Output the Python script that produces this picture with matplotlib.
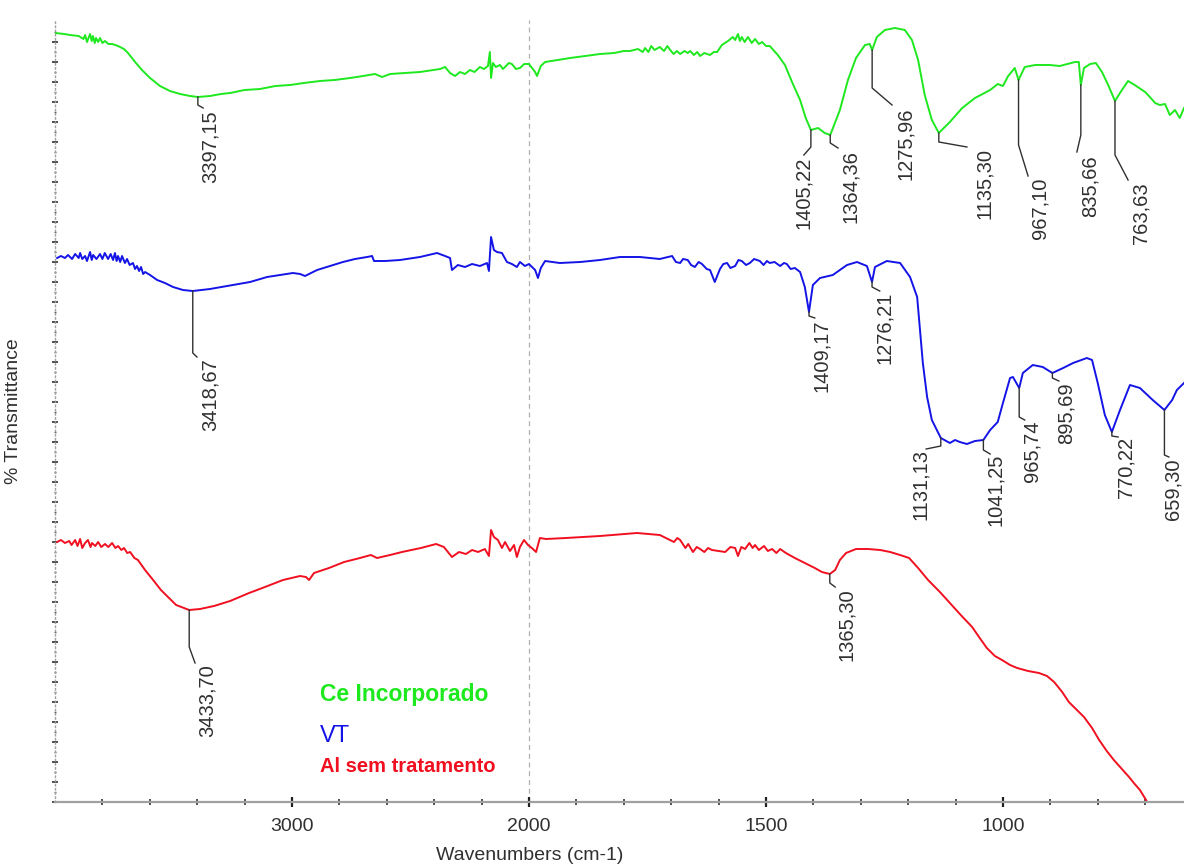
import matplotlib
matplotlib.use('Agg')
import matplotlib.pyplot as plt
from matplotlib.ticker import FixedLocator, NullFormatter
import numpy as np

plt.rcParams['font.family'] = 'Liberation Sans'

# ---- spectra as (wavenumber cm-1, %T) ----
green = [(4000, 76.9), (3960, 76.8), (3937, 76.7), (3900, 76.6), (3880, 76.3), (3873, 76.7),
         (3865, 76.0), (3852, 76.8), (3845, 76.1), (3840, 76.6), (3832, 75.9), (3827, 76.4),
         (3818, 76.0), (3810, 76.4), (3800, 75.9), (3789, 76.1), (3775, 75.8), (3759, 75.8),
         (3734, 75.6), (3709, 75.3), (3692, 74.9), (3662, 74.0), (3633, 73.2), (3599, 72.4),
         (3557, 71.6), (3515, 71.1), (3472, 70.8), (3430, 70.6), (3397, 70.5), (3346, 70.6),
         (3300, 70.8), (3261, 70.9), (3200, 71.2), (3135, 71.3), (3070, 71.6), (3008, 71.7),
         (2950, 71.9), (2882, 72.1), (2820, 72.2), (2755, 72.4), (2700, 72.6), (2650, 72.8),
         (2620, 72.5), (2586, 72.8), (2520, 72.9), (2460, 73.0), (2375, 73.3), (2354, 73.5),
         (2333, 72.9), (2312, 72.6), (2291, 73.0), (2270, 72.8), (2249, 73.2), (2230, 73.0),
         (2207, 73.5), (2190, 73.3), (2173, 73.6), (2165, 75.0), (2160, 72.4), (2152, 73.9),
         (2140, 73.5), (2122, 73.7), (2110, 73.3), (2101, 73.5), (2085, 73.9), (2072, 73.8),
         (2055, 73.3), (2038, 73.4), (2020, 73.8), (2000, 73.8), (1987, 73.0), (1983, 72.6),
         (1975, 73.6), (1966, 74.0), (1913, 74.4), (1850, 74.8), (1820, 74.9), (1800, 75.1),
         (1787, 75.1), (1770, 75.3), (1760, 75.0), (1755, 75.4), (1748, 75.0), (1742, 75.6),
         (1735, 75.2), (1724, 75.5), (1715, 75.1), (1708, 75.6), (1702, 75.2), (1695, 74.8),
         (1688, 75.1), (1681, 74.8), (1672, 75.1), (1665, 74.9), (1660, 75.1), (1652, 74.7),
         (1645, 75.0), (1639, 74.6), (1630, 74.9), (1618, 74.7), (1610, 75.0), (1603, 75.0),
         (1593, 75.7), (1580, 76.1), (1570, 76.5), (1565, 76.2), (1559, 76.8), (1555, 76.1),
         (1551, 76.5), (1545, 76.0), (1538, 76.5), (1530, 75.9), (1523, 76.3), (1515, 75.8),
         (1508, 76.0), (1500, 75.6), (1492, 75.6), (1475, 74.7), (1460, 73.7), (1445, 72.0),
         (1428, 70.2), (1416, 68.4), (1405.2, 67.2), (1390, 67.4), (1376, 66.9), (1364.4, 66.7),
         (1344, 69.2), (1327, 72.2), (1310, 74.4), (1291, 75.7), (1281, 75.8), (1276, 75.2),
         (1266, 76.5), (1249, 77.2), (1228, 77.4), (1207, 77.2), (1192, 76.2), (1179, 74.2),
         (1165, 70.7), (1150, 68.2), (1135.3, 66.9), (1112, 68.0), (1086, 69.4), (1059, 70.4),
         (1027, 71.2), (1011, 71.8), (1000, 71.6), (989, 72.6), (975, 73.4), (967.1, 72.2),
         (954, 73.5), (932, 73.7), (901, 73.7), (880, 73.6), (848, 74.0), (840, 74.0),
         (835.7, 71.7), (829, 73.4), (816, 73.8), (804, 73.9), (791, 73.0), (778, 71.7),
         (763.6, 70.1), (749, 71.2), (736, 72.1), (722, 71.7), (700, 71.0), (690, 70.5),
         (679, 69.9), (669, 69.7), (658, 69.8), (648, 68.7), (637, 69.2), (627, 68.4), (618, 69.4)]

blue = [(3991, 54.4), (3975, 54.6), (3958, 54.4), (3945, 54.7), (3928, 54.3), (3915, 54.8),
        (3900, 54.4), (3894, 54.9), (3885, 54.3), (3873, 54.6), (3865, 54.1), (3852, 55.0),
        (3845, 54.2), (3839, 54.7), (3825, 54.3), (3810, 54.8), (3800, 54.3), (3790, 54.9),
        (3776, 54.3), (3765, 54.8), (3755, 54.2), (3747, 54.9), (3740, 54.1), (3734, 54.6),
        (3725, 54.0), (3717, 54.6), (3705, 53.9), (3696, 54.3), (3685, 53.7), (3671, 53.9),
        (3662, 53.3), (3654, 53.6), (3645, 53.1), (3637, 53.5), (3628, 52.8), (3620, 53.0),
        (3599, 52.7), (3569, 52.2), (3536, 51.9), (3502, 51.5), (3460, 51.2), (3418.7, 51.1),
        (3346, 51.3), (3249, 51.7), (3177, 52.0), (3105, 52.5), (3050, 52.7), (2996, 52.9),
        (2966, 52.8), (2945, 52.6), (2894, 53.2), (2840, 53.6), (2785, 54.0), (2734, 54.3),
        (2683, 54.5), (2662, 54.6), (2654, 54.1), (2607, 54.1), (2544, 54.2), (2460, 54.5),
        (2388, 54.9), (2354, 54.6), (2333, 54.4), (2325, 53.2), (2300, 53.7), (2270, 53.5),
        (2240, 53.8), (2207, 53.6), (2177, 53.9), (2169, 53.1), (2160, 56.5), (2148, 55.2),
        (2135, 55.0), (2114, 54.9), (2093, 54.0), (2072, 53.8), (2051, 53.5), (2038, 54.0),
        (2017, 53.6), (2000, 53.8), (1987, 53.2), (1981, 52.4), (1975, 53.4), (1966, 54.1),
        (1951, 54.0), (1935, 53.9), (1892, 54.0), (1850, 54.2), (1808, 54.5), (1766, 54.5),
        (1724, 54.3), (1698, 54.6), (1690, 54.0), (1681, 53.9), (1675, 54.3), (1665, 54.2),
        (1658, 53.7), (1650, 53.5), (1642, 54.0), (1635, 53.8), (1625, 53.3), (1618, 53.2),
        (1608, 52.0), (1597, 53.3), (1590, 53.8), (1582, 53.9), (1575, 53.4), (1565, 53.6),
        (1558, 54.2), (1551, 54.1), (1542, 53.7), (1534, 53.9), (1525, 54.3), (1513, 54.1),
        (1505, 53.7), (1498, 54.1), (1492, 53.9), (1482, 54.0), (1470, 53.6), (1462, 53.9),
        (1456, 53.8), (1448, 53.3), (1439, 53.4), (1428, 53.0), (1418, 51.5), (1409.2, 49.0),
        (1401, 51.7), (1386, 52.4), (1359, 52.7), (1329, 53.7), (1308, 54.0), (1287, 53.6),
        (1276.2, 52.0), (1270, 53.5), (1245, 54.1), (1217, 53.9), (1196, 52.5), (1181, 50.5),
        (1175, 47.2), (1169, 43.9), (1160, 40.5), (1150, 38.2), (1131.1, 36.4), (1112, 35.9),
        (1101, 36.2), (1091, 36.0), (1076, 35.8), (1059, 36.1), (1041.3, 36.2), (1027, 37.2),
        (1011, 38.0), (1000, 39.9), (985, 42.4), (979, 42.5), (965.7, 41.4), (958, 42.9),
        (937, 43.7), (916, 43.5), (895.7, 42.9), (873, 43.4), (852, 43.9), (823, 44.4),
        (812, 44.2), (800, 41.9), (785, 38.7), (770.2, 37.0), (753, 39.2), (732, 41.7),
        (711, 41.4), (684, 40.2), (659.3, 39.2), (643, 40.2), (633, 41.2), (618, 41.9)]

red = [(3991, 26.0), (3975, 26.2), (3958, 25.9), (3940, 26.1), (3930, 25.7), (3915, 26.2),
       (3905, 25.6), (3894, 26.3), (3885, 25.4), (3873, 25.9), (3861, 26.2), (3850, 25.5),
       (3844, 25.9), (3830, 25.6), (3818, 26.0), (3805, 25.5), (3789, 25.8), (3775, 25.5),
       (3759, 25.9), (3745, 25.4), (3734, 25.6), (3720, 25.2), (3709, 25.4), (3695, 24.9),
       (3683, 25.0), (3665, 24.4), (3650, 24.2), (3620, 23.2), (3586, 22.2), (3553, 21.2),
       (3519, 20.4), (3489, 19.7), (3433.7, 19.2), (3388, 19.3), (3329, 19.6), (3261, 20.1),
       (3181, 20.9), (3114, 21.5), (3038, 22.2), (2966, 22.6), (2941, 22.5), (2928, 22.2),
       (2907, 22.9), (2844, 23.4), (2780, 24.0), (2713, 24.4), (2667, 24.7), (2641, 24.4),
       (2586, 24.7), (2536, 25.0), (2456, 25.4), (2392, 25.8), (2359, 25.5), (2342, 25.0),
       (2325, 24.5), (2295, 25.0), (2266, 24.8), (2240, 25.2), (2215, 25.0), (2186, 25.3),
       (2169, 24.6), (2160, 27.2), (2148, 26.5), (2131, 26.2), (2114, 25.4), (2101, 26.0),
       (2080, 25.1), (2063, 25.7), (2051, 24.5), (2038, 25.5), (2021, 26.2), (2004, 25.7),
       (1994, 25.4), (1985, 25.0), (1977, 26.4), (1964, 26.3), (1922, 26.4), (1850, 26.6),
       (1772, 26.9), (1724, 26.7), (1694, 26.0), (1687, 26.4), (1681, 26.2), (1670, 25.4),
       (1664, 25.8), (1654, 25.0), (1646, 25.5), (1639, 25.3), (1630, 25.0), (1622, 25.4),
       (1614, 25.2), (1600, 25.1), (1586, 25.0), (1575, 25.5), (1565, 25.4), (1559, 24.6),
       (1552, 25.5), (1544, 25.3), (1535, 25.9), (1528, 25.4), (1523, 25.7), (1515, 25.2),
       (1504, 25.6), (1496, 25.1), (1487, 25.3), (1478, 24.9), (1470, 25.3), (1458, 24.9),
       (1439, 24.4), (1418, 23.9), (1397, 23.4), (1382, 23.0), (1365.3, 22.8), (1354, 23.2),
       (1344, 24.2), (1331, 24.9), (1310, 25.3), (1285, 25.3), (1259, 25.2), (1238, 25.0),
       (1217, 24.7), (1198, 24.4), (1179, 23.4), (1158, 22.2), (1133, 21.0), (1112, 19.9),
       (1089, 18.7), (1065, 17.5), (1049, 16.4), (1034, 15.4), (1017, 14.6), (1002, 14.2),
       (985, 13.7), (970, 13.4), (947, 13.1), (924, 12.9), (907, 12.6), (892, 12.0), (875, 11.0),
       (861, 10.0), (844, 9.2), (829, 8.5), (812, 7.4), (797, 6.2), (781, 5.1), (766, 4.2),
       (749, 3.3), (734, 2.5), (722, 1.8), (711, 1.2), (698, 0.2), (686, -1.0), (669, -2.4)]

# ---- peak labels: text, peak (wn, %T) ----
green_peaks = [('3397,15', 3397.15, 70.5), ('1405,22', 1405.22, 67.2), ('1364,36', 1364.36, 66.7),
               ('1275,96', 1275.96, 75.2), ('1135,30', 1135.30, 66.9), ('967,10', 967.10, 72.2),
               ('835,66', 835.66, 71.7), ('763,63', 763.63, 70.1)]
blue_peaks = [('3418,67', 3418.67, 51.1), ('1409,17', 1409.17, 49.0), ('1276,21', 1276.21, 52.0),
              ('1131,13', 1131.13, 36.4), ('1041,25', 1041.25, 36.2), ('965,74', 965.74, 41.4),
              ('895,69', 895.69, 42.9), ('770,22', 770.22, 37.0), ('659,30', 659.30, 39.2)]
red_peaks = [('3433,70', 3433.70, 19.2), ('1365,30', 1365.30, 22.8)]

# leader layout: knee %T, end (wn, %T), text top-centre (wn, %T)
green_lead = [(69.7, 3375, 69.4, 3346, 69.2), (65.5, 1420, 64.7, 1420, 64.5),
              (65.9, 1348, 65.4, 1321, 65.2), (71.4, 1234, 69.7, 1205, 69.4),
              (66.0, 1076, 65.5, 1038, 65.4), (65.7, 947, 62.6, 922, 62.4),
              (66.7, 844, 65.0, 816, 64.7), (64.7, 736, 62.2, 709, 62.0)]
blue_lead = [(44.9, 3401, 44.5, 3346, 44.4), (48.6, 1397, 48.4, 1382, 48.3),
             (51.5, 1260, 51.1, 1249, 51.0), (35.6, 1162, 35.3, 1173, 35.3),
             (35.2, 1027, 34.8, 1015, 34.8), (38.5, 954, 38.2, 939, 38.2),
             (42.4, 882, 42.1, 867, 42.0), (36.6, 757, 36.5, 740, 36.5),
             (34.7, 650, 34.5, 641, 34.4)]
red_lead = [(15.5, 3409, 13.9, 3358, 13.8), (21.9, 1354, 21.5, 1331, 21.4)]


def fwd(w):
    w = np.asarray(w, dtype=float)
    return np.where(w > 2000, 2000 + (w - 2000) * 0.5, w)


def inv(u):
    u = np.asarray(u, dtype=float)
    return np.where(u > 2000, 2000 + (u - 2000) * 2.0, u)


fig = plt.figure(figsize=(11.84, 8.66), dpi=100)
ax = fig.add_axes([55 / 1184, 64 / 866, 1129 / 1184, 782 / 866])
ax.set_xscale('function', functions=(fwd, inv))
ax.set_xlim(4000, 618)
ax.set_ylim(0, 78.2)

ax.axvline(2000, color='#b0b0b0', lw=0.9, ls=(0, (4, 3)), zorder=0)

for data, col in [(green, '#1ee81e'), (blue, '#1414e6'), (red, '#f01020')]:
    arr = np.array(data)
    ax.plot(arr[:, 0], arr[:, 1], color=col, lw=1.4)

for peaks, lead in [(green_peaks, green_lead), (blue_peaks, blue_lead), (red_peaks, red_lead)]:
    for (s, w0, t0), (tk, we, te, wt, tt) in zip(peaks, lead):
        ax.plot([w0, w0, we], [t0, tk, te], color='#303030', lw=1.0, zorder=3)
        ax.text(wt, tt, s, rotation=90, ha='center', va='top', fontsize=14.5, color='#303030')

ax.text(2882, 10.7, 'Ce Incorporado', color='#1ee81e', fontsize=16.5, fontweight='bold', va='center')
ax.text(2882, 6.6, 'VT', color='#1414e6', fontsize=17, va='center')
ax.text(2882, 3.5, 'Al sem tratamento', color='#f01020', fontsize=14.5, fontweight='bold', va='center')

for side in ['top', 'right']:
    ax.spines[side].set_visible(False)
ax.spines['bottom'].set_color('#a0a0a0')
ax.spines['bottom'].set_linewidth(1.6)
ax.spines['left'].set_color('#a0a0a0')
ax.spines['left'].set_linewidth(1.0)
ax.spines['left'].set_linestyle((0, (1, 2)))

ax.xaxis.set_major_locator(FixedLocator([3000, 2000, 1500, 1000]))
ax.xaxis.set_minor_locator(FixedLocator([3800, 3600, 3400, 3200, 2800, 2600, 2400, 2200,
                                         1900, 1800, 1700, 1600, 1400, 1300, 1200, 1100,
                                         900, 800, 700]))
ax.xaxis.set_minor_formatter(NullFormatter())
ax.tick_params(axis='x', which='major', direction='inout', length=7, width=1.6,
               color='#202020', labelsize=14, pad=8, labelcolor='#303030')
ax.tick_params(axis='x', which='minor', direction='inout', length=4, width=1.3, color='#404040')

ax.yaxis.set_major_locator(FixedLocator(np.arange(0, 78, 2)))
ax.yaxis.set_minor_locator(FixedLocator(np.arange(1, 78, 2)))
ax.yaxis.set_major_formatter(NullFormatter())
ax.tick_params(axis='y', which='major', direction='inout', length=4, width=1.3, color='#404040')
ax.tick_params(axis='y', which='minor', direction='inout', length=2, width=1.0, color='#606060')

ax.set_xlabel('Wavenumbers (cm-1)', fontsize=14, color='#303030')
ax.xaxis.set_label_coords((530 - 55) / 1129, -45 / 782)
ax.set_ylabel('% Transmittance', fontsize=14, color='#303030')
ax.yaxis.set_label_coords(-33 / 1129, 0.5)

fig.savefig('out.png', dpi=100)
